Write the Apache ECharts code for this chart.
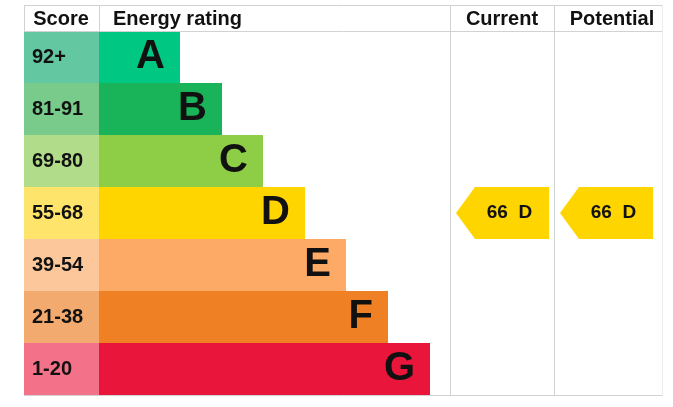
<!DOCTYPE html>
<html>
<head>
<meta charset="utf-8">
<script src="https://cdn.jsdelivr.net/npm/echarts@6/dist/echarts.min.js"></script>
<style>
  html, body { margin: 0; padding: 0; background: #fff; }
  #chart { width: 673px; height: 407px; }
</style>
</head>
<body>
<div id="chart"></div>
<script>
(function () {
  'use strict';

  // bands, top to bottom
  var bands = ['A', 'B', 'C', 'D', 'E', 'F', 'G'];
  var scoreRanges = ['92+', '81-91', '69-80', '55-68', '39-54', '21-38', '1-20'];
  var bandMin = [92, 81, 69, 55, 39, 21, 1];
  // length of each rating bar (same scale as the x axis)
  var barLengths = [81, 123, 164, 206, 247, 289, 331];
  var scoreColWidth = [75, 75, 75, 75, 75, 75, 75];
  var barColors = ['#00c781', '#19b459', '#8dce46', '#ffd500', '#fcaa65', '#ef8023', '#e9153b'];
  var scoreColors = ['#63c7a2', '#79cb8b', '#b1dd8b', '#ffe46b', '#fdc79c', '#f3aa6e', '#f37189'];

  var currentScore = 66;
  var potentialScore = 66;

  function bandOf(score) {
    for (var i = 0; i < bandMin.length; i++) {
      if (score >= bandMin[i]) return bands[i];
    }
    return 'G';
  }

  var FONT = 'Liberation Sans, Arial, sans-serif';
  var LINE = '#d2d2d2';
  var arrow = 'path://M0,26 L19,0 L93,0 L93,52 L19,52 Z';

  function arrowSeries(name, xPos, score) {
    var band = bandOf(score);
    return {
      name: name,
      type: 'scatter',
      symbol: arrow,
      symbolSize: [93, 52],
      symbolKeepAspect: false,
      itemStyle: { color: '#ffd500', opacity: 1 },
      silent: true,
      z: 5,
      label: {
        show: true,
        position: 'inside',
        offset: [7, 0],
        formatter: score + '  ' + band,
        fontFamily: FONT,
        fontWeight: 'bold',
        fontSize: 19,
        color: '#111',
        opacity: 1
      },
      data: [[xPos, band]]
    };
  }

  function hLine(y, x1, x2) {
    return { type: 'line', shape: { x1: x1, y1: y, x2: x2, y2: y }, style: { stroke: LINE, lineWidth: 1 }, z: 10 };
  }
  function vLine(x, y1, y2, color) {
    return { type: 'line', shape: { x1: x, y1: y1, x2: x, y2: y2 }, style: { stroke: color || LINE, lineWidth: 1 }, z: 10 };
  }
  function header(text, x, align) {
    return {
      type: 'text', x: x, y: 19, z: 10,
      style: { text: text, align: align, verticalAlign: 'middle', fontFamily: FONT, fontWeight: 'bold', fontSize: 20, fill: '#111' }
    };
  }

  var myChart = echarts.init(document.getElementById('chart'), null, { renderer: 'canvas' });

  var option = {
    animation: false,
    grid: { left: 24, right: 11, top: 31, bottom: 12 },
    xAxis: { type: 'value', min: 0, max: 638, show: false },
    yAxis: {
      type: 'category',
      data: bands,
      inverse: true,
      show: false
    },
    series: [
      {
        name: 'Score',
        type: 'bar',
        stack: 'row',
        barCategoryGap: '0%',
        silent: true,
        data: scoreColWidth.map(function (v, i) {
          return { value: v, itemStyle: { color: scoreColors[i] } };
        }),
        label: {
          show: true,
          position: 'insideLeft',
          distance: 8,
          formatter: function (p) { return scoreRanges[p.dataIndex]; },
          fontFamily: FONT,
          fontWeight: 'bold',
          fontSize: 20,
          color: '#111'
        }
      },
      {
        name: 'Energy rating',
        type: 'bar',
        stack: 'row',
        barCategoryGap: '0%',
        silent: true,
        data: barLengths.map(function (v, i) {
          return { value: v, itemStyle: { color: barColors[i] } };
        }),
        label: {
          show: true,
          position: 'insideRight',
          distance: 15,
          formatter: function (p) { return bands[p.dataIndex]; },
          fontFamily: FONT,
          fontWeight: 'bold',
          fontSize: 40,
          color: '#111'
        }
      },
      arrowSeries('Current', 478.5, currentScore),
      arrowSeries('Potential', 582.5, potentialScore)
    ],
    graphic: [
      hLine(5.5, 24, 663),
      hLine(31.5, 24, 663),
      hLine(395.5, 24, 663),
      vLine(24.5, 5, 31),
      vLine(99.5, 5, 31),
      vLine(450.5, 5, 396),
      vLine(554.5, 5, 396),
      vLine(662.5, 5, 396, '#ececec'),
      header('Score', 61, 'center'),
      header('Energy rating', 113, 'left'),
      header('Current', 502, 'center'),
      header('Potential', 612, 'center')
    ]
  };

  myChart.setOption(option);
})();
</script>
</body>
</html>
